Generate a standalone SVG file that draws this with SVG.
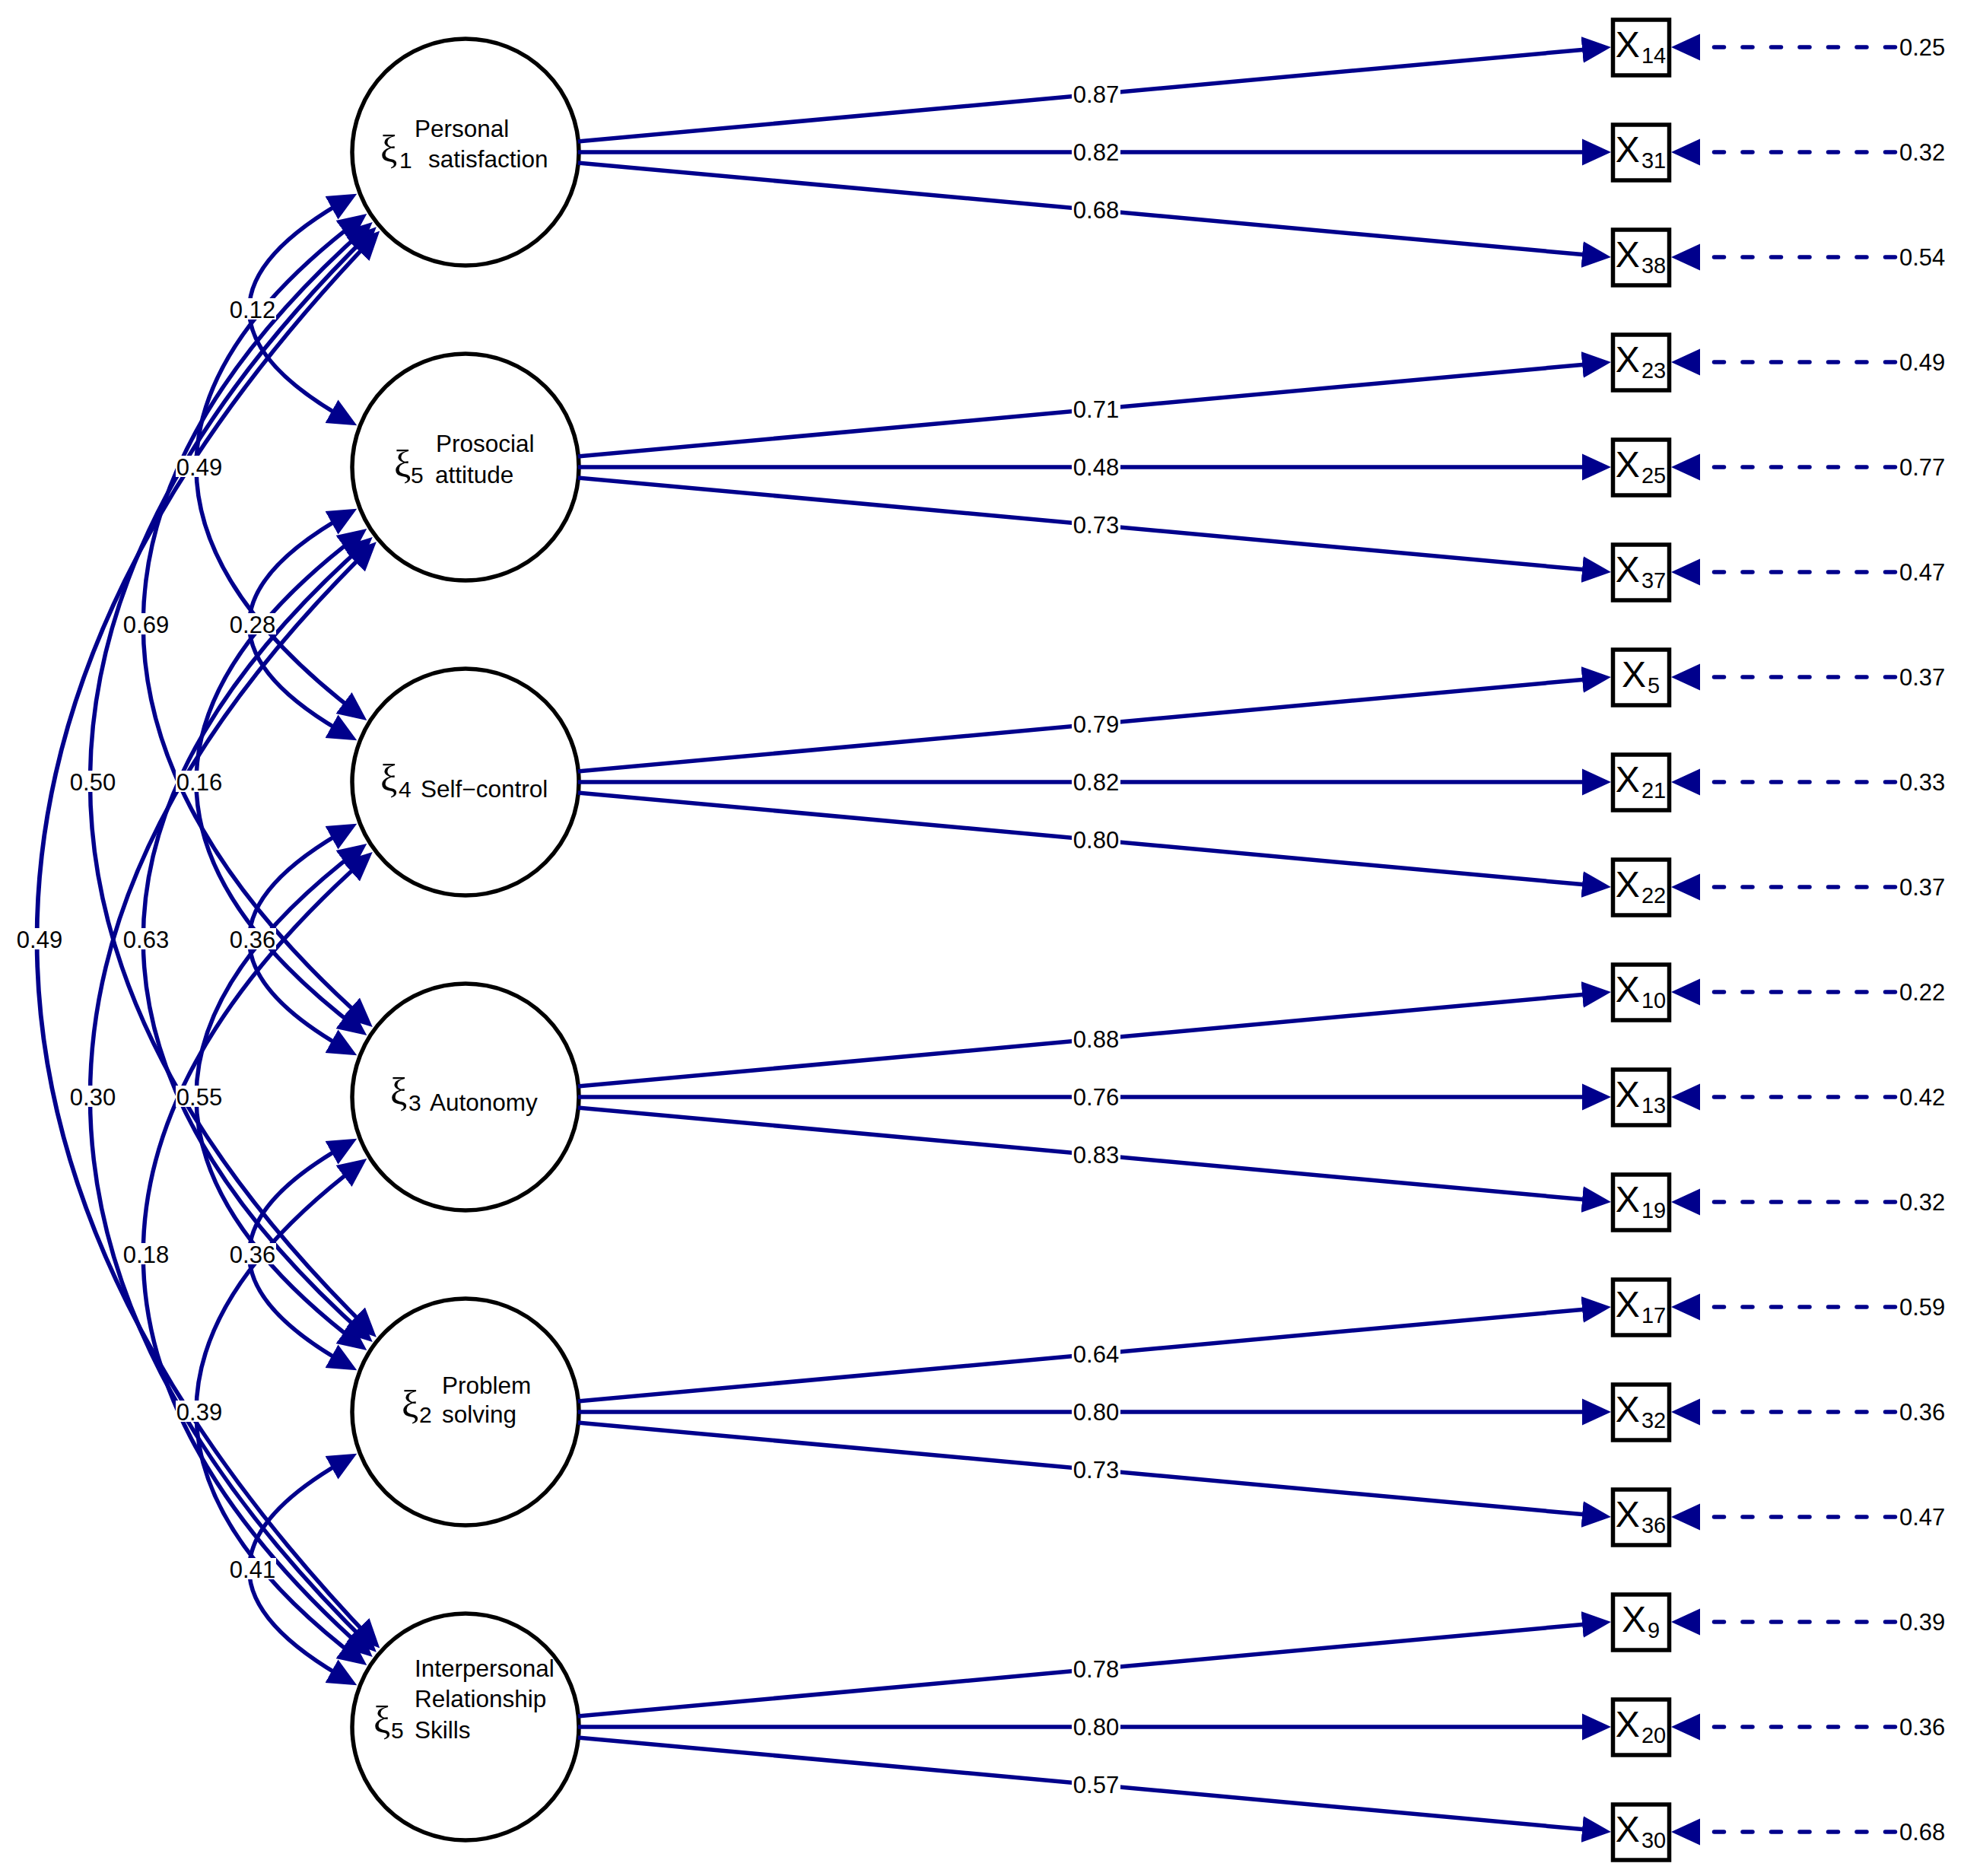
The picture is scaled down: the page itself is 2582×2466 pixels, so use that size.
<svg xmlns="http://www.w3.org/2000/svg" width="2582" height="2466" viewBox="0 0 2582 2466">
<style>
.ln{fill:none;stroke:#00008C;stroke-width:5.5}
.cov{marker-start:url(#ah);marker-end:url(#ah)}
.ld{marker-end:url(#ah)}
.res{stroke-dasharray:13 24.5;stroke-linecap:round;marker-end:url(#ah)}
.bg{fill:#fff}
.lbl{font-family:"Liberation Sans",Arial,sans-serif;font-size:31px;text-anchor:middle;fill:#000}
.rv{font-family:"Liberation Sans",Arial,sans-serif;font-size:31px;fill:#000}
.lat{fill:#fff;stroke:#000;stroke-width:5.5}
.obs{fill:#fff;stroke:#000;stroke-width:5.5}
.nt{font-family:"Liberation Sans",Arial,sans-serif;font-size:31.5px;fill:#000}
.xi{font-family:"Liberation Serif","Times New Roman",serif;font-size:50px;fill:#000}
.sd{font-family:"Liberation Sans",Arial,sans-serif;font-size:30px;fill:#000}
.xt{font-family:"Liberation Sans",Arial,sans-serif;font-size:48px;text-anchor:middle;fill:#000}
.xs{font-size:29px}
</style>
<defs>
<marker id="ah" viewBox="0 -18 38 36" refX="28" refY="0" markerWidth="38" markerHeight="36" markerUnits="userSpaceOnUse" orient="auto-start-reverse">
<path d="M0,-17.5 L38,0 L0,17.5 z" fill="#00008C"/>
</marker>
</defs>

<g id="latents">
<g id="xi1">
<circle cx="612" cy="200" r="149" class="lat"/>
<text class="xi" x="500" y="213">ξ</text><text class="sd" x="525" y="221">1</text>
<text class="nt" x="545" y="180">Personal</text>
<text class="nt" x="563" y="220">satisfaction</text>
</g>
<g id="xi5a">
<circle cx="612" cy="614" r="149" class="lat"/>
<text class="xi" x="518" y="627">ξ</text><text class="sd" x="540" y="635">5</text>
<text class="nt" x="573" y="594">Prosocial</text>
<text class="nt" x="572" y="635">attitude</text>
</g>
<g id="xi4">
<circle cx="612" cy="1028" r="149" class="lat"/>
<text class="xi" x="500" y="1040">ξ</text><text class="sd" x="524" y="1048">4</text>
<text class="nt" x="553" y="1048">Self−control</text>
</g>
<g id="xi3">
<circle cx="612" cy="1442" r="149" class="lat"/>
<text class="xi" x="513" y="1452">ξ</text><text class="sd" x="537" y="1460">3</text>
<text class="nt" x="565" y="1460">Autonomy</text>
</g>
<g id="xi2">
<circle cx="612" cy="1856" r="149" class="lat"/>
<text class="xi" x="528" y="1863">ξ</text><text class="sd" x="551" y="1870">2</text>
<text class="nt" x="581" y="1832">Problem</text>
<text class="nt" x="581" y="1870">solving</text>
</g>
<g id="xi5b">
<circle cx="612" cy="2270" r="149" class="lat"/>
<text class="xi" x="491" y="2278">ξ</text><text class="sd" x="514" y="2285">5</text>
<text class="nt" x="545" y="2204">Interpersonal</text>
<text class="nt" x="545" y="2244">Relationship</text>
<text class="nt" x="545" y="2285">Skills</text>
</g>
</g>

<g id="observed">
<g id="x14"><rect x="2120.5" y="26" width="74" height="73" class="obs"/><text class="xt" x="2157" y="75">X<tspan class="xs" dx="2" dy="8">14</tspan></text></g>
<g id="x31"><rect x="2120.5" y="164" width="74" height="73" class="obs"/><text class="xt" x="2157" y="213">X<tspan class="xs" dx="2" dy="8">31</tspan></text></g>
<g id="x38"><rect x="2120.5" y="302" width="74" height="73" class="obs"/><text class="xt" x="2157" y="351">X<tspan class="xs" dx="2" dy="8">38</tspan></text></g>
<g id="x23"><rect x="2120.5" y="440" width="74" height="73" class="obs"/><text class="xt" x="2157" y="489">X<tspan class="xs" dx="2" dy="8">23</tspan></text></g>
<g id="x25"><rect x="2120.5" y="578" width="74" height="73" class="obs"/><text class="xt" x="2157" y="627">X<tspan class="xs" dx="2" dy="8">25</tspan></text></g>
<g id="x37"><rect x="2120.5" y="716" width="74" height="73" class="obs"/><text class="xt" x="2157" y="765">X<tspan class="xs" dx="2" dy="8">37</tspan></text></g>
<g id="x5"><rect x="2120.5" y="854" width="74" height="73" class="obs"/><text class="xt" x="2157" y="903">X<tspan class="xs" dx="2" dy="8">5</tspan></text></g>
<g id="x21"><rect x="2120.5" y="992" width="74" height="73" class="obs"/><text class="xt" x="2157" y="1041">X<tspan class="xs" dx="2" dy="8">21</tspan></text></g>
<g id="x22"><rect x="2120.5" y="1130" width="74" height="73" class="obs"/><text class="xt" x="2157" y="1179">X<tspan class="xs" dx="2" dy="8">22</tspan></text></g>
<g id="x10"><rect x="2120.5" y="1268" width="74" height="73" class="obs"/><text class="xt" x="2157" y="1317">X<tspan class="xs" dx="2" dy="8">10</tspan></text></g>
<g id="x13"><rect x="2120.5" y="1406" width="74" height="73" class="obs"/><text class="xt" x="2157" y="1455">X<tspan class="xs" dx="2" dy="8">13</tspan></text></g>
<g id="x19"><rect x="2120.5" y="1544" width="74" height="73" class="obs"/><text class="xt" x="2157" y="1593">X<tspan class="xs" dx="2" dy="8">19</tspan></text></g>
<g id="x17"><rect x="2120.5" y="1682" width="74" height="73" class="obs"/><text class="xt" x="2157" y="1731">X<tspan class="xs" dx="2" dy="8">17</tspan></text></g>
<g id="x32"><rect x="2120.5" y="1820" width="74" height="73" class="obs"/><text class="xt" x="2157" y="1869">X<tspan class="xs" dx="2" dy="8">32</tspan></text></g>
<g id="x36"><rect x="2120.5" y="1958" width="74" height="73" class="obs"/><text class="xt" x="2157" y="2007">X<tspan class="xs" dx="2" dy="8">36</tspan></text></g>
<g id="x9"><rect x="2120.5" y="2096" width="74" height="73" class="obs"/><text class="xt" x="2157" y="2145">X<tspan class="xs" dx="2" dy="8">9</tspan></text></g>
<g id="x20"><rect x="2120.5" y="2234" width="74" height="73" class="obs"/><text class="xt" x="2157" y="2283">X<tspan class="xs" dx="2" dy="8">20</tspan></text></g>
<g id="x30"><rect x="2120.5" y="2372" width="74" height="73" class="obs"/><text class="xt" x="2157" y="2421">X<tspan class="xs" dx="2" dy="8">30</tspan></text></g>
</g>

<g id="connectors">
<g id="covariances" class="ln cov">
<path d="M460.5,259.7 Q194.8,407 460.5,554.3"/>
<path d="M460.5,673.7 Q194.8,821 460.5,968.3"/>
<path d="M460.5,1087.7 Q194.8,1235 460.5,1382.3"/>
<path d="M460.5,1501.7 Q194.8,1649 460.5,1796.3"/>
<path d="M460.5,1915.7 Q194.8,2063 460.5,2210.3"/>
<path d="M474.3,287.1 Q41.7,614 474.3,940.9"/>
<path d="M474.3,701.1 Q41.7,1028 474.3,1354.9"/>
<path d="M474.3,1115.1 Q41.7,1442 474.3,1768.9"/>
<path d="M474.3,1529.1 Q41.7,1856 474.3,2182.9"/>
<path d="M482.3,298.7 Q-105.8,821 482.3,1343.3"/>
<path d="M482.3,712.7 Q-105.8,1235 482.3,1757.3"/>
<path d="M482.3,1126.7 Q-105.8,1649 482.3,2171.3"/>
<path d="M487.7,305.3 Q-250.8,1028 487.7,1750.7"/>
<path d="M487.7,719.3 Q-250.8,1442 487.7,2164.7"/>
<path d="M492.3,310.6 Q-395.2,1235 492.3,2159.4"/>
</g>
<g id="loadings" class="ln ld">
<path d="M760,186 L2108,62.9"/><path d="M760,200 L2108,200"/><path d="M760,214 L2108,337.1"/>
<path d="M760,600 L2108,476.9"/><path d="M760,614 L2108,614"/><path d="M760,628 L2108,751.1"/>
<path d="M760,1014 L2108,890.9"/><path d="M760,1028 L2108,1028"/><path d="M760,1042 L2108,1165.1"/>
<path d="M760,1428 L2108,1304.9"/><path d="M760,1442 L2108,1442"/><path d="M760,1456 L2108,1579.1"/>
<path d="M760,1842 L2108,1718.9"/><path d="M760,1856 L2108,1856"/><path d="M760,1870 L2108,1993.1"/>
<path d="M760,2256 L2108,2132.9"/><path d="M760,2270 L2108,2270"/><path d="M760,2284 L2108,2407.1"/>
</g>
<g id="residuals" class="ln res">
<path d="M2491.5,62 L2207,62"/><path d="M2491.5,200 L2207,200"/><path d="M2491.5,338 L2207,338"/>
<path d="M2491.5,476 L2207,476"/><path d="M2491.5,614 L2207,614"/><path d="M2491.5,752 L2207,752"/>
<path d="M2491.5,890 L2207,890"/><path d="M2491.5,1028 L2207,1028"/><path d="M2491.5,1166 L2207,1166"/>
<path d="M2491.5,1304 L2207,1304"/><path d="M2491.5,1442 L2207,1442"/><path d="M2491.5,1580 L2207,1580"/>
<path d="M2491.5,1718 L2207,1718"/><path d="M2491.5,1856 L2207,1856"/><path d="M2491.5,1994 L2207,1994"/>
<path d="M2491.5,2132 L2207,2132"/><path d="M2491.5,2270 L2207,2270"/><path d="M2491.5,2408 L2207,2408"/>
</g>

<g id="cov-labels">
<g class="bg">
<rect x="301" y="392" width="62" height="28"/><rect x="301" y="806" width="62" height="28"/><rect x="301" y="1220" width="62" height="28"/><rect x="301" y="1634" width="62" height="28"/><rect x="301" y="2048" width="62" height="28"/>
<rect x="231" y="599" width="62" height="28"/><rect x="231" y="1013" width="62" height="28"/><rect x="231" y="1427" width="62" height="28"/><rect x="231" y="1841" width="62" height="28"/>
<rect x="161" y="806" width="62" height="28"/><rect x="161" y="1220" width="62" height="28"/><rect x="161" y="1634" width="62" height="28"/>
<rect x="91" y="1013" width="62" height="28"/><rect x="91" y="1427" width="62" height="28"/>
<rect x="21" y="1220" width="62" height="28"/>
</g>
<text class="lbl" x="332" y="418">0.12</text><text class="lbl" x="332" y="832">0.28</text><text class="lbl" x="332" y="1246">0.36</text><text class="lbl" x="332" y="1660">0.36</text><text class="lbl" x="332" y="2074">0.41</text>
<text class="lbl" x="262" y="625">0.49</text><text class="lbl" x="262" y="1039">0.16</text><text class="lbl" x="262" y="1453">0.55</text><text class="lbl" x="262" y="1867">0.39</text>
<text class="lbl" x="192" y="832">0.69</text><text class="lbl" x="192" y="1246">0.63</text><text class="lbl" x="192" y="1660">0.18</text>
<text class="lbl" x="122" y="1039">0.50</text><text class="lbl" x="122" y="1453">0.30</text>
<text class="lbl" x="52" y="1246">0.49</text>
</g>

<g id="loading-labels">
<g class="bg">
<rect x="1409" y="109" width="64" height="28"/><rect x="1409" y="185" width="64" height="28"/><rect x="1409" y="261" width="64" height="28"/>
<rect x="1409" y="523" width="64" height="28"/><rect x="1409" y="599" width="64" height="28"/><rect x="1409" y="675" width="64" height="28"/>
<rect x="1409" y="937" width="64" height="28"/><rect x="1409" y="1013" width="64" height="28"/><rect x="1409" y="1089" width="64" height="28"/>
<rect x="1409" y="1351" width="64" height="28"/><rect x="1409" y="1427" width="64" height="28"/><rect x="1409" y="1503" width="64" height="28"/>
<rect x="1409" y="1765" width="64" height="28"/><rect x="1409" y="1841" width="64" height="28"/><rect x="1409" y="1917" width="64" height="28"/>
<rect x="1409" y="2179" width="64" height="28"/><rect x="1409" y="2255" width="64" height="28"/><rect x="1409" y="2331" width="64" height="28"/>
</g>
<text class="lbl" x="1441" y="135">0.87</text><text class="lbl" x="1441" y="211">0.82</text><text class="lbl" x="1441" y="287">0.68</text>
<text class="lbl" x="1441" y="549">0.71</text><text class="lbl" x="1441" y="625">0.48</text><text class="lbl" x="1441" y="701">0.73</text>
<text class="lbl" x="1441" y="963">0.79</text><text class="lbl" x="1441" y="1039">0.82</text><text class="lbl" x="1441" y="1115">0.80</text>
<text class="lbl" x="1441" y="1377">0.88</text><text class="lbl" x="1441" y="1453">0.76</text><text class="lbl" x="1441" y="1529">0.83</text>
<text class="lbl" x="1441" y="1791">0.64</text><text class="lbl" x="1441" y="1867">0.80</text><text class="lbl" x="1441" y="1943">0.73</text>
<text class="lbl" x="1441" y="2205">0.78</text><text class="lbl" x="1441" y="2281">0.80</text><text class="lbl" x="1441" y="2357">0.57</text>
</g>

<g id="residual-labels">
<text class="rv" x="2497" y="73">0.25</text><text class="rv" x="2497" y="211">0.32</text><text class="rv" x="2497" y="349">0.54</text>
<text class="rv" x="2497" y="487">0.49</text><text class="rv" x="2497" y="625">0.77</text><text class="rv" x="2497" y="763">0.47</text>
<text class="rv" x="2497" y="901">0.37</text><text class="rv" x="2497" y="1039">0.33</text><text class="rv" x="2497" y="1177">0.37</text>
<text class="rv" x="2497" y="1315">0.22</text><text class="rv" x="2497" y="1453">0.42</text><text class="rv" x="2497" y="1591">0.32</text>
<text class="rv" x="2497" y="1729">0.59</text><text class="rv" x="2497" y="1867">0.36</text><text class="rv" x="2497" y="2005">0.47</text>
<text class="rv" x="2497" y="2143">0.39</text><text class="rv" x="2497" y="2281">0.36</text><text class="rv" x="2497" y="2419">0.68</text>
</g>
</g>
</svg>
